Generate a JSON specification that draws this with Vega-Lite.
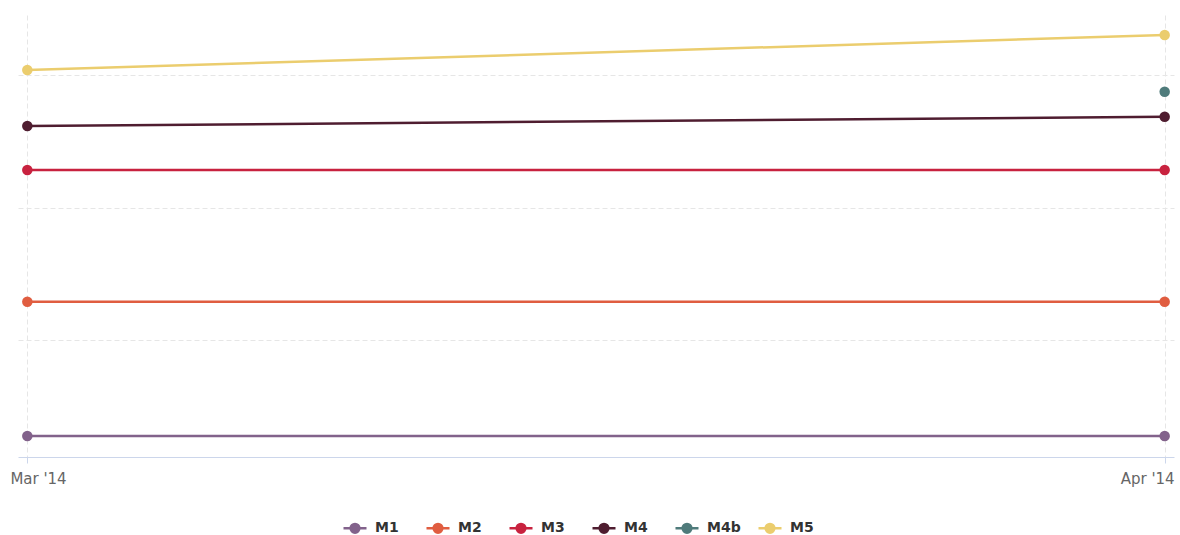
{
  "$schema": "https://vega.github.io/schema/vega-lite/v6.json",
  "width": 1156,
  "height": 442,
  "autosize": {"type": "none"},
  "padding": {"left": 18, "top": 15, "right": 6, "bottom": 78},
  "background": "white",
  "config": {
    "font": "DejaVu Sans",
    "view": {"stroke": null}
  },
  "data": {
    "values": [
      {"month": "Mar '14", "series": "M1", "value": 27.5},
      {"month": "Apr '14", "series": "M1", "value": 27.5},
      {"month": "Mar '14", "series": "M2", "value": 128.9},
      {"month": "Apr '14", "series": "M2", "value": 128.9},
      {"month": "Mar '14", "series": "M3", "value": 228.3},
      {"month": "Apr '14", "series": "M3", "value": 228.3},
      {"month": "Mar '14", "series": "M4", "value": 261.5},
      {"month": "Apr '14", "series": "M4", "value": 268.5},
      {"month": "Apr '14", "series": "M4b", "value": 287.4},
      {"month": "Mar '14", "series": "M5", "value": 303.8},
      {"month": "Apr '14", "series": "M5", "value": 330.2}
    ]
  },
  "encoding": {
    "x": {
      "field": "month",
      "type": "ordinal",
      "sort": ["Mar '14", "Apr '14"],
      "scale": {"type": "point", "padding": 0.0082},
      "axis": {
        "title": null,
        "labelAngle": 0,
        "labelFontSize": 15,
        "labelColor": "#666666",
        "labelPadding": 8,
        "labelOffset": {"condition": {"test": "datum.index < 0.5", "value": 10.7}, "value": -17.5},
        "domainColor": "#ccd6eb",
        "domainWidth": 1,
        "tickColor": "#ccd6eb",
        "tickSize": 6,
        "grid": true,
        "gridColor": "#e6e6e6",
        "gridDash": [5, 3],
        "gridWidth": 1
      }
    },
    "y": {
      "field": "value",
      "type": "quantitative",
      "scale": {"domain": [11.7, 345.3], "nice": false, "zero": false},
      "axis": {
        "title": null,
        "labels": false,
        "ticks": false,
        "domain": false,
        "values": [100, 200, 300],
        "grid": true,
        "gridColor": "#e6e6e6",
        "gridDash": [5, 3],
        "gridWidth": 1
      }
    },
    "color": {
      "field": "series",
      "type": "nominal",
      "scale": {
        "domain": ["M1", "M2", "M3", "M4", "M4b", "M5"],
        "range": ["#82628b", "#e05d40", "#c8223f", "#4f1d30", "#4f7b7b", "#ebcd6e"]
      },
      "legend": {
        "title": null,
        "orient": "none",
        "legendX": 324,
        "legendY": 500,
        "direction": "horizontal",
        "columns": 6,
        "gridAlign": "all",
        "columnPadding": 12,
        "symbolType": "M-1,0L1,0M-0.38,0A0.38,0.38,0,1,1,0.38,0A0.38,0.38,0,1,1,-0.38,0Z",
        "symbolSize": 529,
        "symbolStrokeWidth": 2,
        "labelFontSize": 14,
        "labelFontWeight": "bold",
        "labelColor": "#333333",
        "labelOffset": 7,
        "encode": {
          "symbols": {
            "update": {
              "fill": {"scale": "color", "field": "value"},
              "stroke": {"scale": "color", "field": "value"},
              "strokeWidth": {"value": 2.5},
              "opacity": {"value": 1}
            }
          }
        }
      }
    }
  },
  "layer": [
    {"mark": {"type": "line", "strokeWidth": 2.5}},
    {"mark": {"type": "point", "filled": true, "size": 110, "opacity": 1}}
  ]
}
